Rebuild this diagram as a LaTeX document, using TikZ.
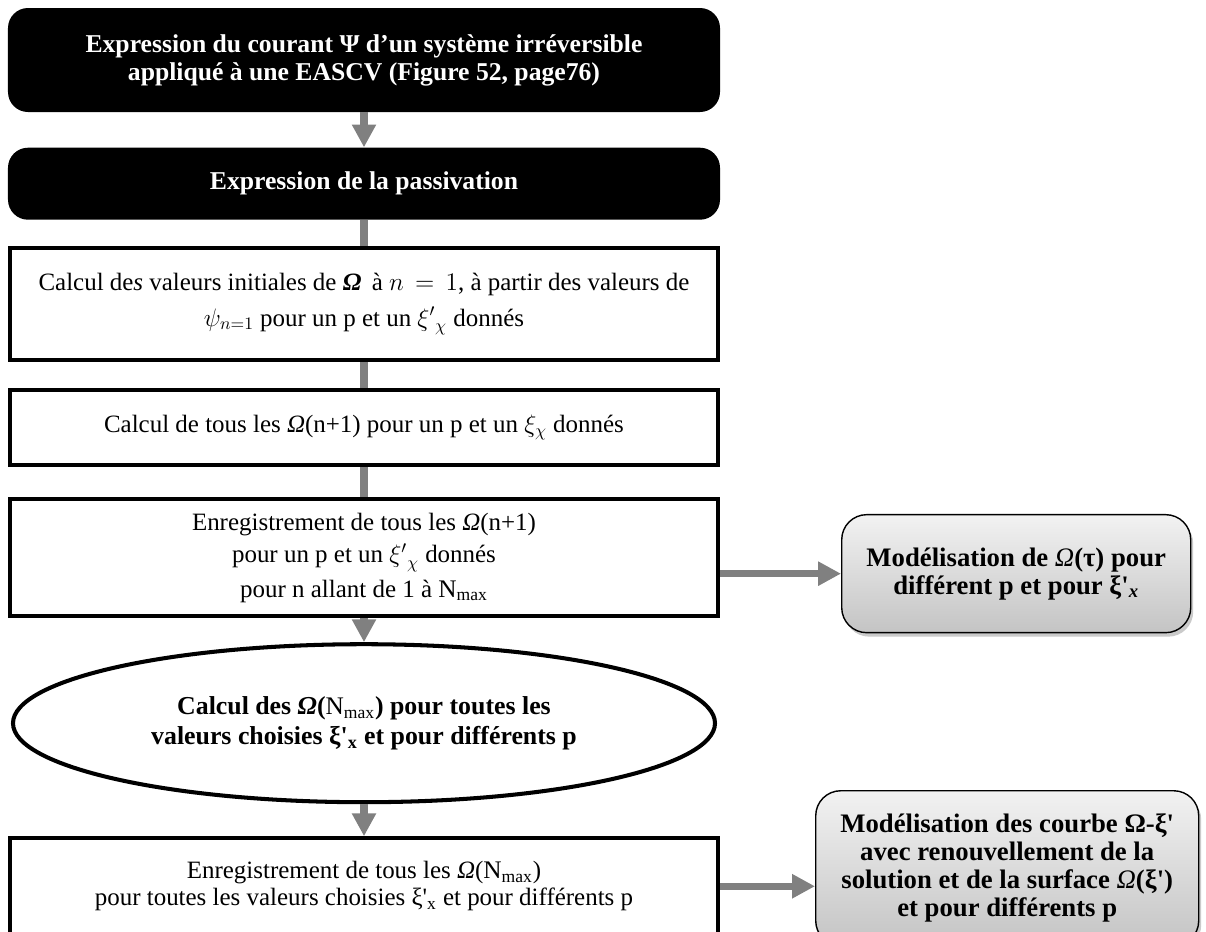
\documentclass[tikz,border=0pt]{standalone}
\usepackage{amsmath, amssymb}
\usepackage{fontspec}
\setmainfont{Liberation Serif}
\usepackage{tikz}
\usetikzlibrary{positioning, arrows.meta, shapes.geometric, shadows}
\definecolor{flowgray}{RGB}{128,128,128}
\definecolor{sidetop}{RGB}{242,242,242}
\definecolor{sidebottom}{RGB}{196,196,196}

\begin{document}
\begin{tikzpicture}[node distance=0.5cm,
    headbox/.style={rectangle, rounded corners=0.4cm, fill=black, text=white,
      minimum width=14.24cm, align=center, font=\fontsize{14.6}{16}\selectfont\bfseries},
    stepbox/.style={rectangle, draw=black, line width=2.3pt, fill=white,
      minimum width=14.16cm, align=center, font=\fontsize{14.2}{15.5}\selectfont},
    loopbox/.style={ellipse, draw=black, line width=2.3pt, fill=white, inner sep=0pt,
      minimum width=14.04cm, minimum height=3.16cm, align=center, font=\fontsize{14.7}{17}\selectfont\bfseries},
    sidebox/.style={rectangle, rounded corners=0.5cm, draw=black, line width=0.8pt,
      top color=sidetop, bottom color=sidebottom,
      drop shadow={shadow xshift=0.05cm, shadow yshift=-0.08cm, opacity=0.35, fill=black!60},
      align=center, font=\fontsize{15.2}{16}\selectfont\bfseries},
    flow/.style={draw=flowgray, line width=4pt},
    flowarrow/.style={flow, -{Triangle[length=13pt, width=13pt]}}]
  \useasboundingbox (0,0) rectangle (24.12,-18.64);
  % Colonne principale
  \node[headbox, minimum height=2.08cm] (expr) at (7.28,-1.2)
    {Expression du courant Ψ d’un système irréversible\\ appliqué à une EASCV (Figure 52, page76)};
  \node[headbox, minimum height=1.44cm, below=0.7cm of expr] (passiv) {Expression de la passivation};
  \node[stepbox, minimum height=2.24cm, below=0.52cm of passiv] (init)
    {Calcul de\textit{s} valeurs initiales de \textbf{\textit{Ω}}\, à $n\,=\,1$, à partir des valeurs de\\[5pt]
     $\psi_{n=1}$ pour un p et un ${\xi'}_{\chi}$ donnés};
  \node[stepbox, minimum height=1.5cm, below=0.52cm of init] (iter)
    {Calcul de tous les \textit{Ω}(n+1) pour un p et un $\xi_{\chi}$ donnés};
  \node[stepbox, minimum height=2.34cm, below=0.6cm of iter] (store)
    {Enregistrement de tous les \textit{Ω}(n+1)\\[3pt] pour un p et un ${\xi'}_{\chi}$ donnés\\[4pt]
     pour n allant de 1 à {\Large N\textsubscript{max}}};
  \node[loopbox, below=0.48cm of store] (allmax)
    {Calcul des \textit{Ω}({\mdseries\Large N\textsubscript{max}}) pour toutes les\\
     valeurs choisies ξ\textquotesingle\textsubscript{x} et pour différents p};
  \node[stepbox, minimum height=1.92cm, below=0.64cm of allmax] (storemax)
    {Enregistrement de tous les \textit{Ω}({\Large N\textsubscript{max}})\\
     pour toutes les valeurs choisies ξ\textquotesingle\textsubscript{x} et pour différents p};
  % Modelisations
  \node[sidebox, minimum width=6.98cm, minimum height=2.36cm, right=2.42cm of store, yshift=-0.32cm] (modtau)
    {Modélisation de {\mdseries\itshape Ω}(τ) pour\\ différent p et pour ξ\textquotesingle\textsubscript{\textit{x}}};
  \node[sidebox, minimum width=7.66cm, minimum height=3.1cm, right=1.9cm of storemax, yshift=0.36cm] (modxi)
    {Modélisation des courbe Ω-ξ\textquotesingle\\ avec renouvellement de la\\
     solution et de la surface {\mdseries\itshape Ω}(ξ\textquotesingle)\\ et pour différents p};
  \path (expr) edge[flowarrow] (passiv)
        (store) edge[flowarrow] (allmax)
        (allmax) edge[flowarrow] (storemax)
        (modtau.west -| store.east) edge[flowarrow] (modtau)
        (storemax.east) edge[flowarrow] (storemax.east -| modxi.west);
  \path (passiv) edge[flow] (init)
        (init) edge[flow] (iter)
        (iter) edge[flow] (store);
\end{tikzpicture}
\end{document}
